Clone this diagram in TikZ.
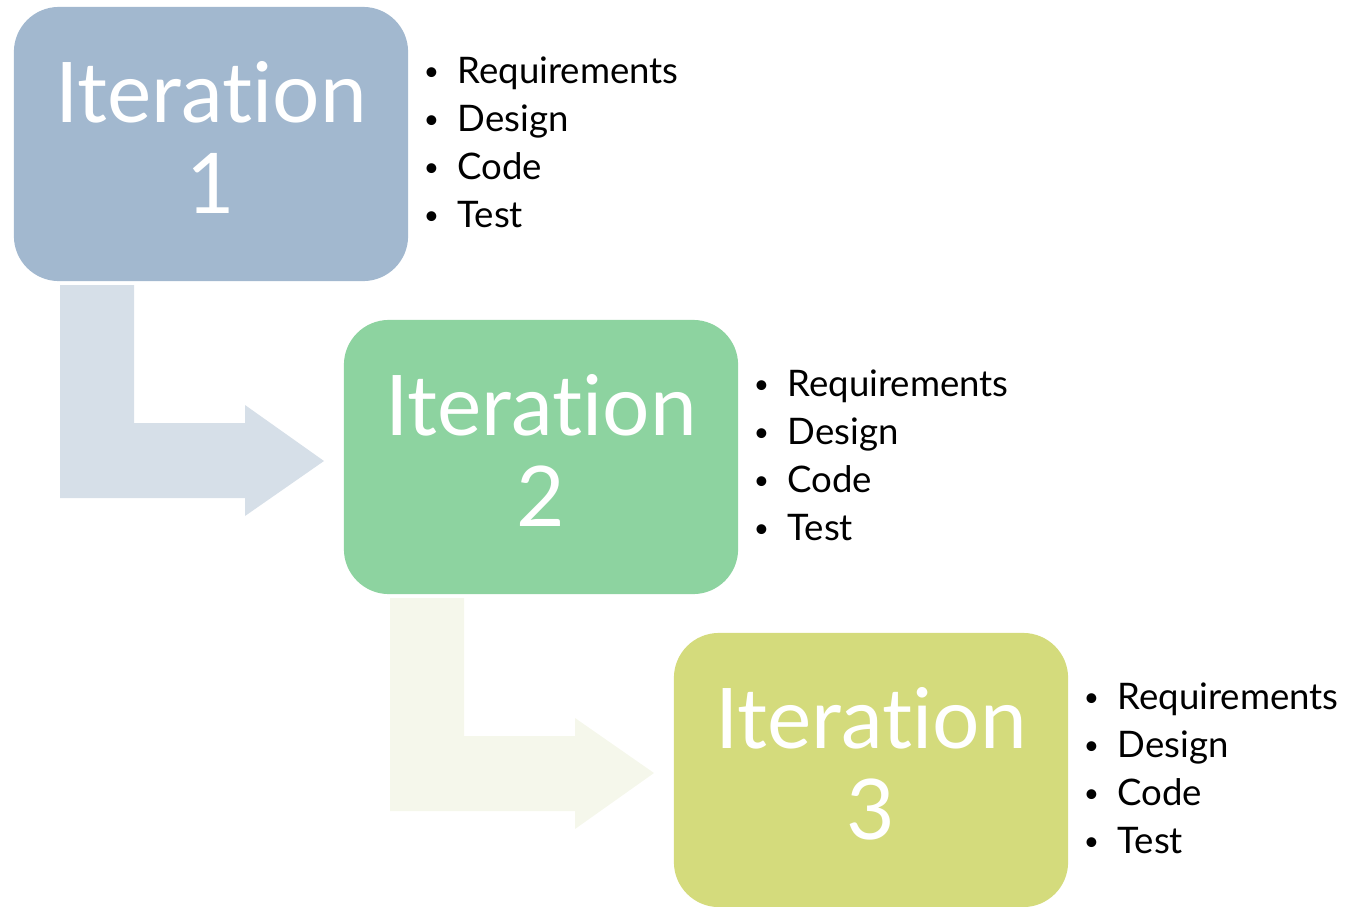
\documentclass[tikz,border=0pt]{standalone}
\usepackage{fontspec}
\setmainfont[Ligatures=NoCommon]{Lato}
\usetikzlibrary{positioning}

\definecolor{iterblue}{RGB}{162,184,207}
\definecolor{itergreen}{RGB}{141,211,160}
\definecolor{iterlime}{RGB}{212,219,124}
\definecolor{arrowblue}{RGB}{214,223,232}
\definecolor{arrowlime}{RGB}{245,247,235}

\newcommand{\stepdot}{\raisebox{0.09em}{\fontsize{7.5}{7.5}\selectfont\textbullet}}

\begin{document}
\begin{tikzpicture}[x=0.01cm,y=-0.01cm,
  iterbox/.style={rounded corners=0.45cm, minimum width=3.94cm, minimum height=2.74cm,
    inner sep=0pt, align=center, text=white, font=\fontsize{23.8}{26}\selectfont,
    execute at end node={\rule[-0.13cm]{0pt}{0pt}}},
  steplist/.style={inner sep=0pt, align=left, font=\fontsize{10.4}{13.66}\selectfont},
  dotcol/.style={steplist, anchor=base east}]
\useasboundingbox (0,0) rectangle (1346,906);
%-------->bent arrows<--------------
\fill[arrowblue] (60,285) -- (134,285) -- (134,423) -- (245,423) -- (245,405)
  -- (324,461) -- (245,516) -- (245,498) -- (60,498) -- cycle;
\fill[arrowlime] (390,598) -- (464,598) -- (464,736) -- (575,736) -- (575,718)
  -- (654,773) -- (575,829) -- (575,811) -- (390,811) -- cycle;
%-------->boxes<--------------
\node[iterbox, fill=iterblue] (it1) at (211,144) {Iteration\\1};
\node[iterbox, fill=itergreen] (it2) at (541,457) {Iteration\\2};
\node[iterbox, fill=iterlime] (it3) at (871,770) {Iteration\\3};
%-------->step lists<--------------
\node[steplist, anchor=north west, below right=0.5cm and 0.48cm of it1.north east] (list1)
  {Requirements\\Design\\Code\\Test};
\node[steplist, anchor=north west, below right=0.5cm and 0.48cm of it2.north east] (list2)
  {Requirements\\Design\\Code\\Test};
\node[steplist, anchor=north west, below right=0.5cm and 0.48cm of it3.north east] (list3)
  {Requirements\\Design\\Code\\Test};
%-------->bullets<--------------
\node[dotcol] (dots1) at ([xshift=-0.17cm]list1.base west) {\stepdot\\\stepdot\\\stepdot\\\stepdot};
\node[dotcol] (dots2) at ([xshift=-0.17cm]list2.base west) {\stepdot\\\stepdot\\\stepdot\\\stepdot};
\node[dotcol] (dots3) at ([xshift=-0.17cm]list3.base west) {\stepdot\\\stepdot\\\stepdot\\\stepdot};
\end{tikzpicture}
\end{document}
